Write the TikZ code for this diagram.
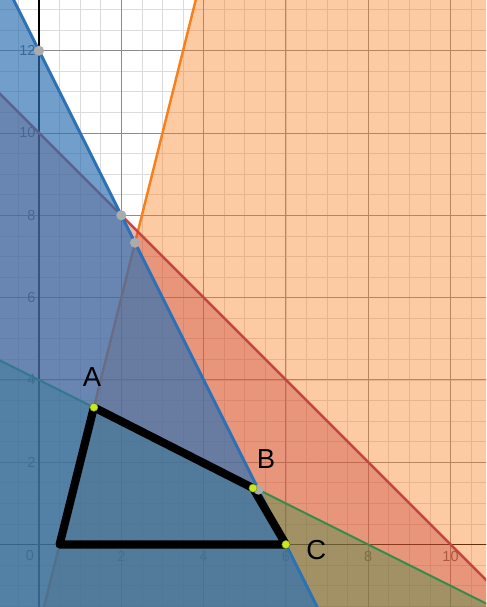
\documentclass[tikz,border=0pt]{standalone}
\usepackage{fontspec}
\setmainfont{Liberation Sans}
\usepackage{tikz}
\usetikzlibrary{positioning}
\definecolor{red}{HTML}{C74440}
\definecolor{blue}{HTML}{2D70B3}
\definecolor{orange}{HTML}{FA7E19}
\definecolor{green}{HTML}{388C46}
\definecolor{lime}{HTML}{C6EA22}
\tikzset{
  ticklbl/.style={font=\fontsize{10}{11}\selectfont,text=black!65,inner sep=0pt},
  ptlbl/.style={font=\fontsize{19}{20}\selectfont,inner sep=0pt},
  vertex/.style={circle,fill=lime,draw=lime!60!black,line width=0.3pt,inner sep=0pt,minimum size=5.6pt},
  crossing/.style={circle,fill=black!33,inner sep=0pt,minimum size=7pt}
}

\begin{document}
\begin{tikzpicture}[x=1cm,y=1cm]
  \useasboundingbox (-0.948,-1.519) rectangle (10.863,13.232);
  \clip (-0.948,-1.519) rectangle (10.863,13.232);
  \draw[black!14,line width=0.5pt,step=0.5] (-1,-2) grid (11,14);
  \draw[black!45,line width=0.6pt,step=2] (-2,-2) grid (12,14);
  \draw[line width=1pt] (-1,0)--(11,0); \draw[line width=1pt] (0,-2)--(0,14);
  \node[ticklbl] (x0) at (-0.22,-0.26) {0};
  \foreach \v in {2,4,...,10} \node[ticklbl] (x\v) at (\v,-0.3) {\v};
  \foreach \v in {2,4,...,12} \node[ticklbl,anchor=east] (y\v) at (-0.08,\v) {\v};
  % y<=4x-2
  \fill[orange,opacity=0.4] (-0.75,-5)--(5.5,20)--(20,20)--(20,-5)--cycle;
  \draw[orange,line width=1.7pt] (-0.75,-5)--(5.5,20);
  % x+y<=10
  \fill[red,opacity=0.4] (-5,15)--(15,-5)--(-5,-5)--cycle;
  \draw[red,line width=1.7pt] (-5,15)--(15,-5);
  % x+2y<=8
  \fill[green,opacity=0.4] (-5,6.5)--(20,-6)--(-5,-6)--cycle;
  \draw[green,line width=1.4pt] (-5,6.5)--(20,-6);
  % 2x+y<=12
  \fill[blue,opacity=0.68] (-5,22)--(9,-6)--(-5,-6)--cycle;
  \draw[blue,line width=2pt] (-5,22)--(9,-6);
  \coordinate (O) at (0.5,0);
  \coordinate (A) at (4/3,10/3);
  \coordinate (B) at (5.2,1.37);
  \coordinate (C) at (6,0);
  \draw[line width=5.6pt,line join=round] (O)--(A)--(B)--(C)--cycle;
  \node[crossing] (i1) at (0,12) {};
  \node[crossing] (i2) at (2,8) {};
  \node[crossing] (i3) at (7/3,22/3) {};
  \node[crossing] (i4) at (16/3,4/3) {};
  \node[vertex] (pA) at (A) {};
  \node[vertex] (pB) at (B) {};
  \node[vertex] (pC) at (C) {};
  \node[ptlbl] (lA) at (1.29,4.07) {A};
  \node[ptlbl] (lB) at (5.52,2.08) {B};
  \node[ptlbl] (lC) at (6.74,-0.13) {C};
\end{tikzpicture}
\end{document}
